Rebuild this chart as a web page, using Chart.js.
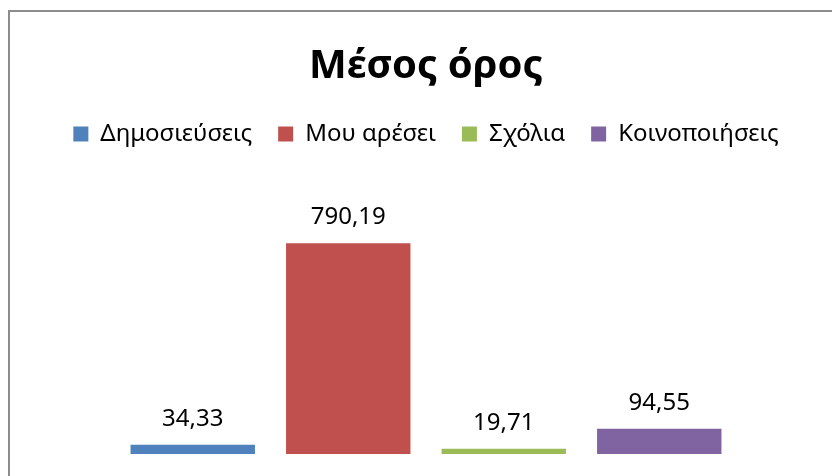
<!DOCTYPE html>
<html lang="el">
<head>
    <meta charset="UTF-8">
    <title>Μέσος όρος</title>
    <script src="https://cdn.jsdelivr.net/npm/chart.js"></script>
    <style>
        body {
            margin: 0;
            background: #ffffff;
        }
        .chart-box {
            position: relative;
            width: 832px;
            height: 476px;
        }
    </style>
</head>
<body>
    <div class="chart-box">
        <canvas id="avg-chart" width="832" height="476"></canvas>
    </div>

    <script>
        // data
        const seriesNames = ['Δημοσιεύσεις', 'Μου αρέσει', 'Σχόλια', 'Κοινοποιήσεις'];
        const seriesValues = [34.33, 790.19, 19.71, 94.55];
        const seriesColors = ['#4F81BD', '#C0504D', '#9BBB59', '#8064A2'];
        const categories = [''];
        const axisMax = 900;

        const fontFamily = "'Noto Sans', 'DejaVu Sans', sans-serif";

        // grey frame on the left and top edges (chart is cropped right/bottom)
        const framePlugin = {
            id: 'frame',
            beforeDraw(chart) {
                const ctx = chart.ctx;
                ctx.save();
                ctx.strokeStyle = '#8c8c8c';
                ctx.lineWidth = 2;
                ctx.beginPath();
                ctx.moveTo(9, chart.height);
                ctx.lineTo(9, 11);
                ctx.lineTo(chart.width, 11);
                ctx.stroke();
                ctx.restore();
            }
        };

        // extra room under the legend, like the Excel plot area
        const legendGap = {
            id: 'legendGap',
            beforeInit(chart) {
                const fit = chart.legend.fit;
                chart.legend.fit = function () {
                    fit.bind(chart.legend)();
                    this.height += 58;
                };
            }
        };

        // value labels above each bar, with a decimal comma
        const valueLabels = {
            id: 'valueLabels',
            afterDatasetsDraw(chart) {
                const ctx = chart.ctx;
                ctx.save();
                ctx.fillStyle = '#000000';
                ctx.font = '24px ' + fontFamily;
                ctx.textAlign = 'center';
                ctx.textBaseline = 'alphabetic';
                chart.data.datasets.forEach((ds, i) => {
                    const bar = chart.getDatasetMeta(i).data[0];
                    const txt = ds.data[0].toFixed(2).replace('.', ',');
                    ctx.fillText(txt, bar.x, bar.y - 19);
                });
                ctx.restore();
            }
        };

        const datasets = seriesNames.map((name, i) => ({
            label: name,
            data: [seriesValues[i]],
            backgroundColor: seriesColors[i],
            borderWidth: 0,
            barPercentage: 0.8,
            categoryPercentage: 0.766
        }));

        const ctx = document.getElementById('avg-chart').getContext('2d');
        new Chart(ctx, {
            type: 'bar',
            data: {
                labels: categories,
                datasets: datasets
            },
            options: {
                responsive: false,
                animation: false,
                layout: {
                    padding: { left: 20, right: 0, top: 43, bottom: 22 }
                },
                plugins: {
                    title: {
                        display: true,
                        text: 'Μέσος όρος',
                        color: '#000000',
                        font: { family: fontFamily, size: 40, weight: 'bold' },
                        padding: { top: 0, bottom: 5 }
                    },
                    legend: {
                        position: 'top',
                        labels: {
                            color: '#000000',
                            font: { family: fontFamily, size: 24 },
                            boxWidth: 15,
                            boxHeight: 15,
                            padding: 26
                        }
                    },
                    tooltip: { enabled: false }
                },
                scales: {
                    x: { display: false },
                    y: { display: false, min: 0, max: axisMax }
                }
            },
            plugins: [framePlugin, legendGap, valueLabels]
        });
    </script>
</body>
</html>
